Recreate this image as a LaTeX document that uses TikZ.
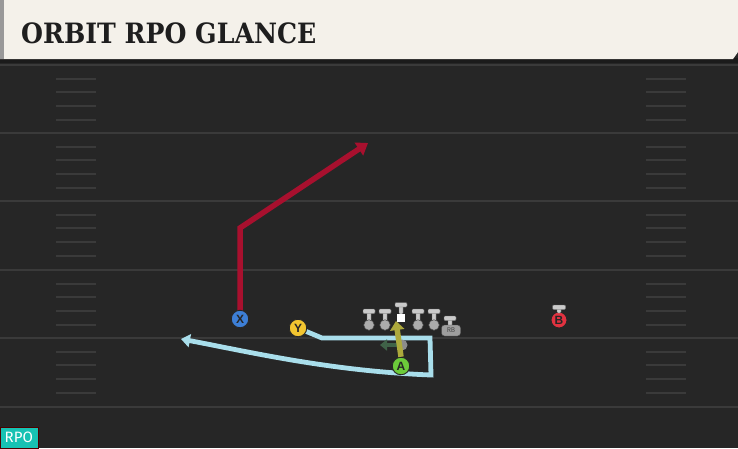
\documentclass[tikz,border=0pt]{standalone}
\usepackage{fontspec}
\setmainfont{Liberation Sans}
\newfontfamily\titlefont{DejaVu Serif Condensed}
\newfontfamily\labfont{Fira Sans}
\usetikzlibrary{arrows.meta}
\definecolor{field}{HTML}{262626}
\definecolor{yardc}{HTML}{3A3A3A}
\definecolor{hashc}{HTML}{3A3A3A}
\definecolor{barc}{HTML}{F4F1EA}
\definecolor{shadowc}{HTML}{1B1B1B}
\definecolor{titlec}{HTML}{1E1E1E}
\definecolor{redr}{HTML}{A8102E}
\definecolor{bluer}{HTML}{A9DEEB}
\definecolor{yelr}{HTML}{ADA93C}
\definecolor{dgreen}{HTML}{3F6248}
\definecolor{xblue}{HTML}{3D7FD6}
\definecolor{yyel}{HTML}{F2C530}
\definecolor{agreen}{HTML}{6CCB3A}
\definecolor{bred}{HTML}{E23240}
\definecolor{tgray}{HTML}{CACACA}
\definecolor{teal}{HTML}{17C2B3}
\pgfdeclarelayer{bg}
\pgfdeclarelayer{routes}
\pgfsetlayers{bg,routes,main}
\tikzset{
  yard/.style={draw=yardc, line width=2.5pt},
  hashmark/.style={draw=hashc, line width=2pt},
  player/.style={circle, minimum size=17.5pt, inner sep=0pt, draw=black!85, line width=0.9pt,
    font=\bfseries\fontsize{12}{12}\selectfont, text=black!85},
  redroute/.style={draw=redr, line width=5.5pt, -{Triangle[length=11pt,width=15pt]}},
  blueroute/.style={draw=bluer, line width=4.8pt, -{Triangle[length=9pt,width=13pt]}},
  yelarrow/.style={draw=yelr, line width=5.5pt, -{Triangle[length=9pt,width=14pt]}},
  greenarrow/.style={draw=dgreen, line width=4.5pt, -{Triangle[length=7pt,width=11pt]}},
  lcirc/.style={circle, minimum size=10.5pt, inner sep=0pt, fill=tgray!85!black, draw=black!70, line width=0.5pt},
  tpart/.style={fill=tgray, draw=black!60, line width=0.4pt, rounded corners=1pt},
}
\newcommand\drawblocker[3]{%
  \path[tpart] (#2-2,#3-13) rectangle (#2+2,#3-2);
  \path[tpart] (#2-6,#3-16) rectangle (#2+6,#3-11.5);
  \node[lcirc] (#1) at (#2,#3) {};
}
\begin{document}
\begin{tikzpicture}[x=1pt,y=-1pt]
\useasboundingbox (0,0) rectangle (738,448);
\begin{pgfonlayer}{bg}
\fill[field] (0,0) rectangle (738,448);
\fill[shadowc] (0,58) rectangle (738,63);
\fill[barc] (0,0) -- (738,0) -- (738,52) -- (733,59) -- (0,59) -- cycle;
\fill[black!40] (0,0) rectangle (4,59);
\foreach \yy in {65,133,201,270,338,407} \draw[yard] (0,\yy) -- (738,\yy);
\foreach \b in {65,133,201,270,338} {
  \foreach \k in {1,2,3,4} {
    \pgfmathsetmacro\hy{\b+\k*13.7}
    \draw[hashmark] (56,\hy) -- (96,\hy);
    \draw[hashmark] (646,\hy) -- (686,\hy);
  }
}
\end{pgfonlayer}

\node[anchor=west, inner sep=0pt, font=\titlefont\bfseries\fontsize{28}{28}\selectfont, text=titlec] (title) at (21,33) {ORBIT RPO GLANCE};

% players
\node[player, fill=xblue] (X) at (240,319) {X};
\node[player, fill=yyel] (Y) at (298,328) {Y};
\node[player, fill=agreen] (A) at (401,366) {A};
\node[player, fill=bred, minimum size=16pt] (B) at (559,320) {B};

% routes
\coordinate (xb) at (240,228);
\coordinate (xe) at (368,143);
\coordinate (b1) at (322,338);
\coordinate (b2) at (430,338);
\coordinate (b3) at (431,375);
\coordinate (be) at (181,339);
\coordinate (ye) at (396,321);
\coordinate (gl) at (380,345);
\begin{pgfonlayer}{routes}
\draw[redroute, line join=miter] (X.center) -- (xb) -- (xe);
\draw[blueroute, line join=miter] (Y.center) -- (b1) -- (b2) -- (b3) .. controls (330,371) and (250,352) .. (be);
\node[circle, minimum size=11pt, inner sep=0pt, fill=black!45] (gdot) at (402,345) {};
\draw[greenarrow] (gdot.center) -- (gl);
\end{pgfonlayer}

% offensive line
\drawblocker{LT}{369}{325}
\drawblocker{LG}{385}{325}
\drawblocker{RG}{418}{325}
\drawblocker{RT}{434}{325}
\path[tpart] (401-2,304) rectangle (401+2,314);
\path[tpart] (401-6,302.5) rectangle (401+6,307);
\node[fill=white, minimum size=8.5pt, inner sep=0pt] (C) at (401,318) {};
\path[tpart] (450-2,318) rectangle (450+2,326);
\path[tpart] (450-6,316) rectangle (450+6,320.5);
\node[fill=black!38, draw=black!70, line width=0.4pt, rounded corners=3pt, minimum width=19pt, minimum height=11pt,
  inner sep=0pt, font=\labfont\fontsize{7}{7}\selectfont, text=black!70] (RB) at (451,330.5) {RB};
\path[tpart] (559-2,307) rectangle (559+2,313);
\path[tpart] (559-6.5,305) rectangle (559+6.5,309.5);

\draw[yelarrow] (A.north) -- (ye);

\node[fill=teal, draw=red!30!black, line width=0.6pt, minimum width=38pt, minimum height=21pt, inner sep=0pt,
  anchor=south west, font=\labfont\fontsize{15}{15}\selectfont, text=white] (rpo) at (-0.5,448.5) {RPO};
\end{tikzpicture}
\end{document}
